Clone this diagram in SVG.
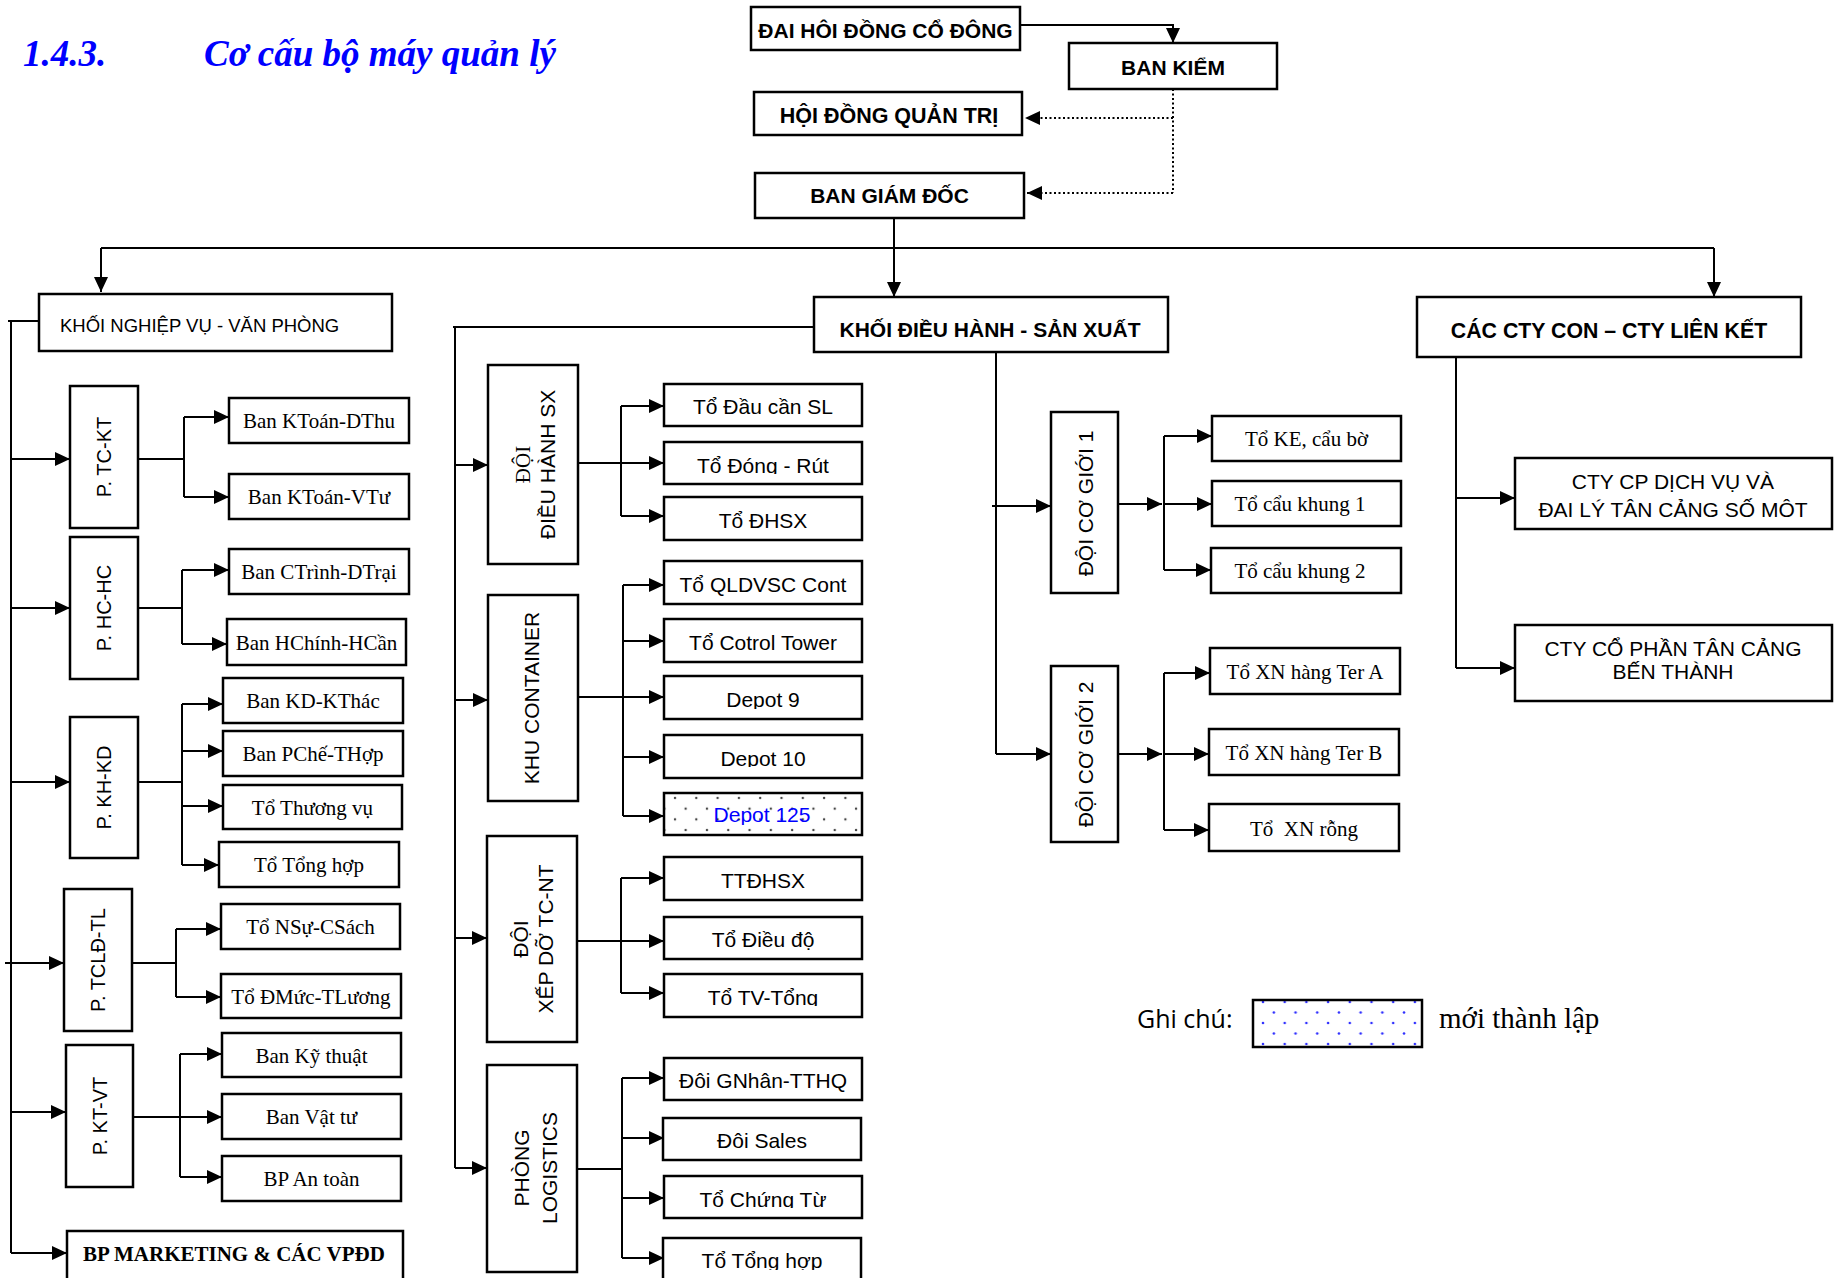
<svg xmlns="http://www.w3.org/2000/svg" width="1842" height="1278" viewBox="0 0 1842 1278">
<style>
.b{fill:#fff;stroke:#000;stroke-width:2.5}
.c{fill:none;stroke:#000;stroke-width:2}
.d{fill:none;stroke:#000;stroke-width:2;stroke-dasharray:2,2.5}
.a{marker-end:url(#ah)}
text{fill:#000}
.hb{font-family:"Liberation Sans",Arial,sans-serif;font-weight:bold;font-size:21px;text-anchor:middle}
.sn{font-family:"Liberation Sans",Arial,sans-serif;font-size:21px;text-anchor:middle}
.vl{font-family:"Liberation Sans",Arial,sans-serif;font-size:20px;text-anchor:middle}
.sr{font-family:"Liberation Serif","Times New Roman",serif;font-size:21px;text-anchor:middle}
.ttl{font-family:"Liberation Serif","Times New Roman",serif;font-size:37px;font-weight:bold;font-style:italic;fill:#0000ff}
</style>
<defs>
<marker id="ah" markerUnits="userSpaceOnUse" markerWidth="15" markerHeight="14" refX="15" refY="7" orient="auto">
<path d="M0,0 L15,7 L0,14 z" fill="#000"/>
</marker>
<pattern id="dotk" patternUnits="userSpaceOnUse" x="673" y="796" width="21.3" height="21.4">
<circle cx="2" cy="2" r="1.2" fill="#444"/>
<circle cx="12.65" cy="12.7" r="1.2" fill="#444"/>
</pattern>
<pattern id="dotb" patternUnits="userSpaceOnUse" x="1261" y="1000" width="21.7" height="21">
<circle cx="2" cy="2" r="1.3" fill="#3030ff"/>
<circle cx="12.85" cy="12.5" r="1.3" fill="#3030ff"/>
</pattern>
<clipPath id="k1"><rect x="751" y="7" width="269" height="32"/></clipPath>
<clipPath id="k2"><rect x="1515" y="495" width="317" height="23"/></clipPath>
<clipPath id="k3"><rect x="664" y="442" width="198" height="32"/></clipPath>
<clipPath id="k4"><rect x="664" y="676" width="198" height="33"/></clipPath>
<clipPath id="k5"><rect x="664" y="735" width="198" height="32"/></clipPath>
<clipPath id="k6"><rect x="664" y="793" width="198" height="32"/></clipPath>
<clipPath id="k7"><rect x="664" y="974" width="198" height="32"/></clipPath>
<clipPath id="k8"><rect x="664" y="1176" width="198" height="32"/></clipPath>
<clipPath id="k9"><rect x="663" y="1238" width="198" height="32"/></clipPath>
</defs>

<g id="title">
<text class="ttl" x="23" y="66">1.4.3.</text>
<text class="ttl" x="204" y="66">Cơ cấu bộ máy quản lý</text>
</g>

<g id="connectors">
<path class="c a" d="M1020,25 H1173 V43"/>
<path class="d" d="M1173,89 V193"/>
<path class="d a" d="M1173,118 H1025"/>
<path class="d a" d="M1173,193 H1027"/>
<path class="c a" d="M894,218 V297"/>
<path class="c" d="M101,248 H1714"/>
<path class="c a" d="M101,248 V292"/>
<path class="c a" d="M1714,248 V297"/>

<path class="c" d="M39,321 H8 M11,321 V1253"/>
<path class="c a" d="M11,459 H70"/>
<path class="c a" d="M11,608 H70"/>
<path class="c a" d="M11,782 H70"/>
<path class="c a" d="M5,963 H64"/>
<path class="c a" d="M11,1112 H66"/>
<path class="c a" d="M11,1253 H67"/>

<path class="c" d="M138,459 H184 M184,417 V497"/>
<path class="c a" d="M184,417 H229"/>
<path class="c a" d="M184,497 H229"/>
<path class="c" d="M138,608 H182 M182,570 V644"/>
<path class="c a" d="M182,570 H229"/>
<path class="c a" d="M182,644 H227"/>
<path class="c" d="M138,782 H182 M182,704 V865"/>
<path class="c a" d="M182,704 H223"/>
<path class="c a" d="M182,751 H223"/>
<path class="c a" d="M182,806 H223"/>
<path class="c a" d="M182,865 H219"/>
<path class="c" d="M132,963 H176 M176,929 V997"/>
<path class="c a" d="M176,929 H221"/>
<path class="c a" d="M176,997 H221"/>
<path class="c a" d="M133,1117 H222"/>
<path class="c" d="M180,1054 V1177"/>
<path class="c a" d="M180,1054 H222"/>
<path class="c a" d="M180,1177 H222"/>

<path class="c" d="M814,327 H453 M455,327 V1168"/>
<path class="c a" d="M455,465 H488"/>
<path class="c a" d="M455,700 H488"/>
<path class="c a" d="M455,938 H487"/>
<path class="c a" d="M455,1168 H487"/>
<path class="c a" d="M578,463 H664"/>
<path class="c" d="M621,406 V516"/>
<path class="c a" d="M621,406 H664"/>
<path class="c a" d="M621,516 H664"/>
<path class="c a" d="M578,697 H664"/>
<path class="c" d="M623,585 V816"/>
<path class="c a" d="M623,585 H664"/>
<path class="c a" d="M623,641 H664"/>
<path class="c a" d="M623,757 H664"/>
<path class="c a" d="M623,816 H664"/>
<path class="c a" d="M577,941 H664"/>
<path class="c" d="M621,878 V993"/>
<path class="c a" d="M621,878 H664"/>
<path class="c a" d="M621,993 H664"/>
<path class="c" d="M577,1169 H622 M622,1078 V1258"/>
<path class="c a" d="M622,1078 H664"/>
<path class="c a" d="M622,1138 H664"/>
<path class="c a" d="M622,1198 H664"/>
<path class="c a" d="M622,1258 H664"/>

<path class="c" d="M996,352 V754"/>
<path class="c a" d="M992,506 H1051"/>
<path class="c a" d="M996,754 H1051"/>
<path class="c a" d="M1118,504 H1162"/>
<path class="c" d="M1164,436 V570"/>
<path class="c a" d="M1164,436 H1212"/>
<path class="c a" d="M1164,504 H1212"/>
<path class="c a" d="M1164,570 H1211"/>
<path class="c a" d="M1118,754 H1162"/>
<path class="c" d="M1164,673 V830"/>
<path class="c a" d="M1164,673 H1210"/>
<path class="c a" d="M1164,754 H1209"/>
<path class="c a" d="M1164,830 H1209"/>

<path class="c" d="M1456,357 V668"/>
<path class="c a" d="M1456,498 H1515"/>
<path class="c a" d="M1456,668 H1515"/>
</g>

<g id="dhcd"><rect class="b" x="751" y="7" width="269" height="43"/><text class="hb" x="885.5" y="38" clip-path="url(#k1)">ĐẠI HỘI ĐỒNG CỔ ĐÔNG</text></g>
<g id="bks"><rect class="b" x="1069" y="43" width="208" height="46"/><text class="hb" x="1173" y="75">BAN KIỂM</text></g>
<g id="hdqt"><rect class="b" x="754" y="92" width="268" height="43"/><text class="hb" x="889" y="123" style="font-size:21.5px">HỘI ĐỒNG QUẢN TRỊ</text></g>
<g id="bgd"><rect class="b" x="755" y="173" width="269" height="45"/><text class="hb" x="889.5" y="203">BAN GIÁM ĐỐC</text></g>

<g id="knv"><rect class="b" x="39" y="294" width="353" height="57"/><text x="60" y="332" style="font-family:'Liberation Sans',Arial,sans-serif;font-size:18.5px">KHỐI NGHIỆP VỤ - VĂN PHÒNG</text></g>
<g id="kdh"><rect class="b" x="814" y="297" width="354" height="55"/><text class="hb" x="990" y="337">KHỐI ĐIỀU HÀNH - SẢN XUẤT</text></g>
<g id="ccty"><rect class="b" x="1417" y="297" width="384" height="60"/><text class="hb" x="1609" y="338" style="font-size:21.3px">CÁC CTY CON – CTY LIÊN KẾT</text></g>

<g id="ptckt"><rect class="b" x="70" y="386" width="68" height="142"/><text class="vl" transform="translate(104,457) rotate(-90)" y="7">P. TC-KT</text></g>
<g id="ktdt"><rect class="b" x="229" y="398" width="180" height="45"/><text class="sr" x="319" y="428">Ban KToán-DThu</text></g>
<g id="ktvt"><rect class="b" x="229" y="474" width="180" height="45"/><text class="sr" x="319" y="504">Ban KToán-VTư</text></g>
<g id="phchc"><rect class="b" x="70" y="537" width="68" height="142"/><text class="vl" transform="translate(104,608) rotate(-90)" y="7">P. HC-HC</text></g>
<g id="ctdt"><rect class="b" x="229" y="549" width="180" height="45"/><text class="sr" x="319" y="579">Ban CTrình-DTrại</text></g>
<g id="hchc"><rect class="b" x="227" y="619" width="179" height="46"/><text class="sr" x="316.5" y="650">Ban HChính-HCần</text></g>
<g id="pkhkd"><rect class="b" x="70" y="717" width="68" height="141"/><text class="vl" transform="translate(104,787.5) rotate(-90)" y="7">P. KH-KD</text></g>
<g id="kdkt"><rect class="b" x="223" y="678" width="180" height="45"/><text class="sr" x="313" y="708">Ban KD-KThác</text></g>
<g id="pcth"><rect class="b" x="223" y="731" width="180" height="45"/><text class="sr" x="313" y="761">Ban PChế-THợp</text></g>
<g id="ttv"><rect class="b" x="223" y="785" width="179" height="44"/><text class="sr" x="312.5" y="815">Tổ Thương vụ</text></g>
<g id="tth1"><rect class="b" x="219" y="842" width="180" height="45"/><text class="sr" x="309" y="872">Tổ Tổng hợp</text></g>
<g id="ptcld"><rect class="b" x="64" y="889" width="68" height="142"/><text class="vl" transform="translate(98,960) rotate(-90)" y="7">P. TCLĐ-TL</text></g>
<g id="nscs"><rect class="b" x="221" y="904" width="179" height="45"/><text class="sr" x="310.5" y="934">Tổ NSự-CSách</text></g>
<g id="dmtl"><rect class="b" x="221" y="974" width="180" height="44"/><text class="sr" x="311" y="1004">Tổ ĐMức-TLương</text></g>
<g id="pktvt"><rect class="b" x="66" y="1045" width="67" height="142"/><text class="vl" transform="translate(99.5,1116) rotate(-90)" y="7">P. KT-VT</text></g>
<g id="bkt"><rect class="b" x="222" y="1033" width="179" height="44"/><text class="sr" x="311.5" y="1063">Ban Kỹ thuật</text></g>
<g id="bvt"><rect class="b" x="222" y="1094" width="179" height="45"/><text class="sr" x="311.5" y="1124">Ban Vật tư</text></g>
<g id="bpat"><rect class="b" x="222" y="1156" width="179" height="45"/><text class="sr" x="311.5" y="1186">BP An toàn</text></g>
<g id="bpmk"><rect class="b" x="67" y="1231" width="336" height="60"/><text class="sr" x="234" y="1261" style="font-weight:bold">BP MARKETING &amp; CÁC VPĐD</text></g>

<g id="ddhsx"><rect class="b" x="488" y="365" width="90" height="199"/>
<g transform="translate(533,464.5) rotate(-90)"><text class="sr" y="-3">ĐỘI</text><text class="sn" y="22">ĐIỀU HÀNH SX</text></g></g>
<g id="t1"><rect class="b" x="664" y="384" width="198" height="42"/><text class="sn" x="763" y="414">Tổ Đầu cần SL</text></g>
<g id="t2"><rect class="b" x="664" y="442" width="198" height="42"/><text class="sn" x="763" y="472.5" clip-path="url(#k3)">Tổ Đóng - Rút</text></g>
<g id="t3"><rect class="b" x="664" y="497" width="198" height="43"/><text class="sn" x="763" y="528">Tổ ĐHSX</text></g>
<g id="khucont"><rect class="b" x="488" y="595" width="90" height="206"/><text class="sn" transform="translate(533,698) rotate(-90)" y="6">KHU CONTAINER</text></g>
<g id="t4"><rect class="b" x="664" y="561" width="198" height="43"/><text class="sn" x="763" y="592">Tổ QLDVSC Cont</text></g>
<g id="t5"><rect class="b" x="664" y="619" width="198" height="43"/><text class="sn" x="763" y="650">Tổ Cotrol Tower</text></g>
<g id="t6"><rect class="b" x="664" y="676" width="198" height="43"/><text class="sn" x="763" y="707" clip-path="url(#k4)">Depot 9</text></g>
<g id="t7"><rect class="b" x="664" y="735" width="198" height="43"/><text class="sn" x="763" y="766" clip-path="url(#k5)">Depot 10</text></g>
<g id="t8"><rect class="b" x="664" y="793" width="198" height="42" style="fill:url(#dotk)"/><text class="sn" x="762" y="822" clip-path="url(#k6)" style="fill:#0000ff">Depot 125</text></g>
<g id="dxd"><rect class="b" x="487" y="836" width="90" height="206"/>
<g transform="translate(532,939) rotate(-90)"><text class="sn" y="-4">ĐỘI</text><text class="sn" y="21">XẾP DỠ TC-NT</text></g></g>
<g id="t9"><rect class="b" x="664" y="857" width="198" height="43"/><text class="sn" x="763" y="888">TTĐHSX</text></g>
<g id="t10"><rect class="b" x="664" y="917" width="198" height="42"/><text class="sn" x="763" y="947">Tổ Điều độ</text></g>
<g id="t11"><rect class="b" x="664" y="974" width="198" height="43"/><text class="sn" x="763" y="1005" clip-path="url(#k7)">Tổ TV-Tổng</text></g>
<g id="plog"><rect class="b" x="487" y="1065" width="90" height="207"/>
<g transform="translate(532,1168) rotate(-90)"><text class="sn" y="-3">PHÒNG</text><text class="sn" y="25">LOGISTICS</text></g></g>
<g id="t12"><rect class="b" x="664" y="1058" width="198" height="42"/><text class="sn" x="763" y="1088">Đôi GNhân-TTHQ</text></g>
<g id="t13"><rect class="b" x="663" y="1118" width="198" height="42"/><text class="sn" x="762" y="1148">Đôi Sales</text></g>
<g id="t14"><rect class="b" x="664" y="1176" width="198" height="42"/><text class="sn" x="763" y="1206.5" clip-path="url(#k8)">Tổ Chứng Từ</text></g>
<g id="t15"><rect class="b" x="663" y="1238" width="198" height="55"/><text class="sn" x="762" y="1268" clip-path="url(#k9)">Tổ Tổng hợp</text></g>

<g id="dcg1"><rect class="b" x="1051" y="412" width="67" height="181"/><text class="sn" transform="translate(1084.5,503.5) rotate(-90)" y="8">ĐỘI CƠ GIỚI 1</text></g>
<g id="r1"><rect class="b" x="1212" y="416" width="189" height="45"/><text class="sr" x="1306.5" y="446">Tổ KE, cẩu bờ</text></g>
<g id="r2"><rect class="b" x="1212" y="481" width="189" height="45"/><text class="sr" x="1300" y="511">Tổ cẩu khung 1</text></g>
<g id="r3"><rect class="b" x="1211" y="548" width="190" height="45"/><text class="sr" x="1300" y="578">Tổ cẩu khung 2</text></g>
<g id="dcg2"><rect class="b" x="1051" y="666" width="67" height="176"/><text class="sn" transform="translate(1084.5,754.5) rotate(-90)" y="8">ĐỘI CƠ GIỚI 2</text></g>
<g id="r4"><rect class="b" x="1210" y="648" width="190" height="46"/><text class="sr" x="1305" y="679">Tổ XN hàng Ter A</text></g>
<g id="r5"><rect class="b" x="1209" y="729" width="190" height="46"/><text class="sr" x="1304" y="760">Tổ XN hàng Ter B</text></g>
<g id="r6"><rect class="b" x="1209" y="804" width="190" height="47"/><text class="sr" x="1304" y="836" style="white-space:pre">Tổ  XN rỗng</text></g>

<g id="ctycp"><rect class="b" x="1515" y="458" width="317" height="71"/><text class="sn" x="1673" y="489">CTY CP DỊCH VỤ VÀ</text><text class="sn" x="1673" y="517" clip-path="url(#k2)">ĐẠI LÝ TÂN CẢNG SỐ MỘT</text></g>
<g id="ctybt"><rect class="b" x="1515" y="625" width="317" height="76"/><text class="sn" x="1673" y="656">CTY CỔ PHẦN TÂN CẢNG</text><text class="sn" x="1673" y="679">BẾN THÀNH</text></g>

<g id="legend">
<text x="1137" y="1028" style="font-family:'Open Sans','Noto Sans',sans-serif;font-size:25px">Ghi chú:</text>
<rect class="b" x="1253" y="1000" width="169" height="47" style="fill:url(#dotb)"/>
<text x="1439" y="1028" style="font-family:'Liberation Serif','Times New Roman',serif;font-size:29px">mới thành lập</text>
</g>
</svg>
